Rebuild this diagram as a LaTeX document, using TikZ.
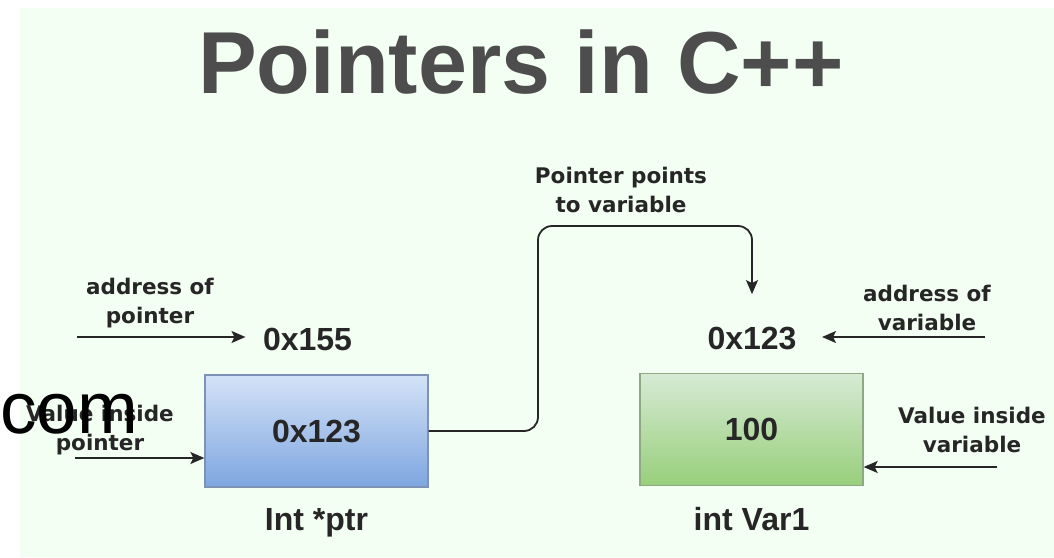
\documentclass[tikz,border=0pt]{standalone}
\usepackage{fontspec}
\setmainfont{Liberation Sans}
\newfontfamily\notefont{DejaVu Sans}
\usetikzlibrary{positioning,arrows.meta}

\definecolor{panel}{HTML}{F2FFF2}
\definecolor{titlegray}{HTML}{4D4D4D}
\definecolor{ptrtop}{HTML}{D4E2F7}
\definecolor{ptrbot}{HTML}{7EA6E0}
\definecolor{ptrline}{HTML}{7D93B5}
\definecolor{vartop}{HTML}{D7EAD5}
\definecolor{varbot}{HTML}{97CF7A}
\definecolor{varline}{HTML}{8DA882}

\tikzset{
  title/.style={font=\fontsize{88}{96}\selectfont\bfseries, text=titlegray, inner sep=0pt},
  memcell/.style={draw, line width=1.3pt, minimum width=223pt, minimum height=112pt,
    font=\fontsize{32}{36}\selectfont\bfseries, text=black!85},
  addr/.style={font=\fontsize{32}{36}\selectfont\bfseries, text=black!85},
  note/.style={align=center, font=\notefont\fontsize{21.5}{29}\selectfont\bfseries, text=black!85},
  link/.style={-{Stealth[length=14pt, width=12pt, inset=3pt]}, line width=1.8pt, black!85},
}

\begin{document}
\begin{tikzpicture}[x=1pt, y=-1pt]
  % canvas
  \useasboundingbox[fill=white] (0,0) rectangle (1054,557);
  \fill[panel] (20,8) rectangle (1054,557);

  % title
  \node[title, anchor=base] (title) at (521,93) {Pointers in C++};

  % memory cells
  \node[memcell, draw=ptrline, top color=ptrtop, bottom color=ptrbot] (ptr) at (316.5,431) {0x123};
  \node[memcell, draw=varline, top color=vartop, bottom color=varbot] (var) at (751.5,429.5) {100};

  % names under the cells
  \node[addr, below=17pt of ptr] (ptrname) {Int *ptr};
  \node[addr, below=18pt of var] (varname) {int Var1};

  % addresses
  \node[addr] (a155) at (307.5,339) {0x155};
  \node[addr] (a123) at (752,339) {0x123};

  % side notes
  \node[note] (apnote) at (150,303.5) {address of\\pointer};
  \node[note] (vpnote) at (100,430.5) {Value inside\\pointer};
  \node[note] (avnote) at (927,308) {address of\\variable};
  \node[note] (vvnote) at (972,430) {Value inside\\variable};
  \node[note] (linknote) at (621,190) {Pointer points\\to variable};

  % arrow ends
  \coordinate (apstart) at (77,337);
  \coordinate (vpstart) at (75,458);
  \coordinate (avstart) at (985,337);
  \coordinate (vvstart) at (997,467);
  \coordinate (bendup) at (538,226);

  % arrows
  \draw[link, shorten >=14pt] (apstart) -- (apstart -| a155.west);
  \draw[link] (vpstart) -- (vpstart -| ptr.west);
  \draw[link, shorten >=22pt] (avstart) -- (avstart -| a123.east);
  \draw[link] (vvstart) -- (vvstart -| var.east);
  \draw[link, rounded corners=14pt, shorten >=30pt] (ptr.east) -| (bendup) -| (a123.north);

  % stamp over the left note
  \node[anchor=base west, inner sep=0pt, font=\fontsize{73}{80}\selectfont] (stamp) at (0,433) {com};
\end{tikzpicture}
\end{document}
